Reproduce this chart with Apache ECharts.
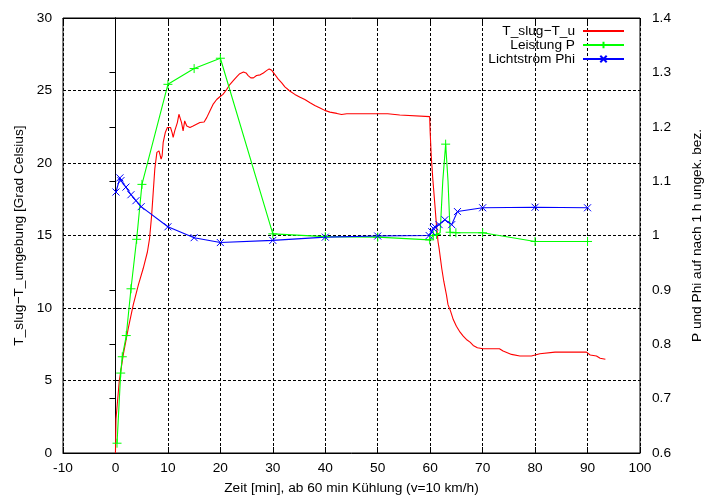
<!DOCTYPE html>
<html>
<head>
<meta charset="utf-8">
<script src="https://cdn.jsdelivr.net/npm/echarts@6/dist/echarts.min.js"></script>
<style>html,body{margin:0;padding:0;background:#fff;}#c{width:713px;height:500px;}</style>
</head>
<body>
<div id="c"></div>
<script>
// ---- data ----
const redX = [0,0.1,0.35,0.73,1.5,2.46,3.4,4.37,5.3,6.1,6.5,6.9,7.5,7.9,8.3,8.7,8.9,9.1,9.5,9.9,10.2,10.5,10.8,11.0,11.3,11.8,12.1,12.4,12.6,12.9,13.2,13.4,13.6,14.2,14.8,15.1,16.1,16.9,17.4,18.0,18.6,19.3,19.9,20.5,21.2,21.8,22.5,23.1,23.7,24.4,24.9,25.3,25.8,26.3,26.9,27.6,28.2,28.8,29.3,29.8,30.4,31.0,31.7,32.3,33.3,34.2,35.2,36.1,37.1,38.0,39.0,39.9,40.9,42.2,43.1,44.1,51.9,52.0,54.2,54.3,59.9,60.0,60.2,60.5,60.9,61.2,61.5,61.7,62.2,62.6,63.1,63.4,63.9,64.4,65.0,65.7,66.3,66.9,67.6,68.2,69.0,70.1,73.2,73.9,75.5,77.1,79.3,80.9,83.8,89.8,90.5,91.7,92.4,93.4];
const redY = [0,2.35,3.38,4.98,6.8,8.63,10.23,11.6,12.74,13.88,14.79,16.39,19.59,20.73,20.84,20.27,20.5,21.42,22.1,22.45,22.55,22.45,22.1,21.76,22.21,22.79,23.36,23.47,22.79,22.21,22.9,23.01,22.55,22.45,22.55,22.45,22.79,22.83,23.13,23.58,24.04,24.38,24.57,24.73,25.07,25.41,25.7,25.94,26.16,26.28,26.21,26.03,25.87,25.87,26.03,26.08,26.21,26.37,26.49,26.39,26.1,25.8,25.53,25.25,24.95,24.73,24.54,24.38,24.16,23.97,23.8,23.63,23.51,23.42,23.34,23.4,23.4,23.31,23.31,23.2,23.2,22.1,20.5,18.9,17.1,15.7,14.57,14.11,12.74,11.83,10.91,10.23,9.77,9.2,8.74,8.33,8.06,7.83,7.65,7.42,7.26,7.19,7.19,7.03,6.8,6.69,6.69,6.85,6.96,6.96,6.76,6.69,6.53,6.46];

const greenX = [0.3,1.0,1.3,2.06,2.96,4.04,5.05,10,15,20,30,40,50,59.9,60.6,61.2,61.9,62.4,62.95,63.4,63.8,64.9,70,80,90];
const greenY = [0.618,0.747,0.777,0.816,0.902,0.993,1.094,1.278,1.307,1.326,1.003,0.998,0.997,0.992,1.0,1.002,1.005,1.10,1.168,1.10,1.006,1.005,1.005,0.989,0.989];
const greenMark = [1,1,1,1,1,1,1,1,1,1,1,1,1,1,1,1,0,0,1,0,1,1,1,1,1];

const blueX = [0.1,0.85,1.05,2.0,2.95,3.9,4.9,10,15,20,30,40,50,59.8,60.3,60.6,60.9,61.7,62.8,64.1,65.2,70,80,90];
const blueY = [1.080,1.106,1.101,1.089,1.075,1.064,1.053,1.016,0.996,0.987,0.991,0.997,0.999,1.0,1.007,1.013,1.016,1.020,1.029,1.020,1.044,1.051,1.052,1.051];

const seriesNames = ['T_slug\u2212T_u', 'Leistung P', 'Lichtstrom Phi'];
const xAxisName = 'Zeit [min], ab 60 min K\u00fchlung (v=10 km/h)';
const yAxisName = 'T_slug\u2212T_umgebung [Grad Celsius]';
const y2AxisName = 'P und Phi auf nach 1 h ungek. bez.';

// ---- chart ----
const FONT = 'Liberation Sans';
const FS = 13.7;
const plusPath = 'path://M5,0L5,10M0,5L10,5';
const crossPath = 'path://M0,0L10,10M10,0L0,10';

const redData = redX.map((x, i) => [x, redY[i]]);
const greenData = greenX.map((x, i) => greenMark[i] ? [x, greenY[i]] : {value: [x, greenY[i]], symbol: 'none'});
const blueData = blueX.map((x, i) => [x, blueY[i]]);

const chart = echarts.init(document.getElementById('c'), null, {renderer: 'canvas'});
const dotted = {color: '#000', width: 1, type: [3, 2]};
chart.setOption({
  animation: false,
  backgroundColor: '#fff',
  textStyle: {fontFamily: FONT, fontSize: FS, color: '#000'},
  grid: {left: 63, right: 73, top: 18, bottom: 44, show: true, borderColor: '#000', borderWidth: 1, backgroundColor: 'transparent'},
  legend: {
    orient: 'vertical', right: 88, top: 24, align: 'right',
    itemWidth: 41, itemHeight: 8, itemGap: 0, padding: 0,
    textStyle: {fontFamily: FONT, fontSize: FS, color: '#000', lineHeight: 13.7, padding: [0, 3, 0, 0]},
    data: [
      {name: seriesNames[0], itemStyle: {opacity: 0}},
      {name: seriesNames[1]},
      {name: seriesNames[2]}
    ]
  },
  xAxis: [{
    type: 'value', min: -10, max: 100, interval: 10,
    name: xAxisName, nameLocation: 'middle', nameGap: 28,
    nameTextStyle: {fontFamily: FONT, fontSize: FS, color: '#000'},
    axisLine: {lineStyle: {color: '#000'}},
    axisTick: {inside: true, length: 6, lineStyle: {color: '#000'}},
    axisLabel: {color: '#000', fontFamily: FONT, fontSize: FS, margin: 8},
    splitLine: {show: true, lineStyle: dotted}
  }, {
    type: 'value', min: -10, max: 100, interval: 10, position: 'top',
    axisLine: {lineStyle: {color: '#000'}},
    axisTick: {inside: true, length: 6, lineStyle: {color: '#000'}},
    axisLabel: {show: false}, splitLine: {show: false}
  }],
  yAxis: [{
    type: 'value', min: 0, max: 30, interval: 5, position: 'left',
    name: yAxisName, nameLocation: 'middle', nameGap: 37,
    nameTextStyle: {fontFamily: FONT, fontSize: FS, color: '#000'},
    axisLine: {show: true, lineStyle: {color: '#000'}},
    axisTick: {inside: true, length: 6, lineStyle: {color: '#000'}},
    axisLabel: {color: '#000', fontFamily: FONT, fontSize: FS, margin: 11},
    splitLine: {show: true, lineStyle: dotted}
  }, {
    type: 'value', min: 0.6, max: 1.4, interval: 0.1, position: 'right',
    name: y2AxisName, nameLocation: 'middle', nameGap: 50, nameRotate: 90,
    nameTextStyle: {fontFamily: FONT, fontSize: FS, color: '#000'},
    axisLine: {show: true, lineStyle: {color: '#000'}},
    axisTick: {inside: true, length: 6, lineStyle: {color: '#000'}},
    axisLabel: {color: '#000', fontFamily: FONT, fontSize: FS, margin: 12,
      formatter: v => String(parseFloat(Number(v).toFixed(1)))},
    splitLine: {show: false}
  }],
  series: [{
    name: seriesNames[0], type: 'line', xAxisIndex: 0, yAxisIndex: 0,
    data: redData, symbol: 'none', color: '#ff0000',
    lineStyle: {color: '#ff0000', width: 1.1}
  }, {
    name: seriesNames[1], type: 'line', xAxisIndex: 0, yAxisIndex: 1,
    data: greenData, symbol: plusPath, symbolSize: 9, showAllSymbol: true, color: '#00ff00',
    lineStyle: {color: '#00ff00', width: 1.1},
    itemStyle: {color: '#00ff00', borderColor: '#00ff00', borderWidth: 1}
  }, {
    name: seriesNames[2], type: 'line', xAxisIndex: 0, yAxisIndex: 1,
    data: blueData, symbol: crossPath, symbolSize: 7, showAllSymbol: true, color: '#0000ff',
    lineStyle: {color: '#0000ff', width: 1.1},
    itemStyle: {color: '#0000ff', borderColor: '#0000ff', borderWidth: 1}
  }]
});
</script>
</body>
</html>
